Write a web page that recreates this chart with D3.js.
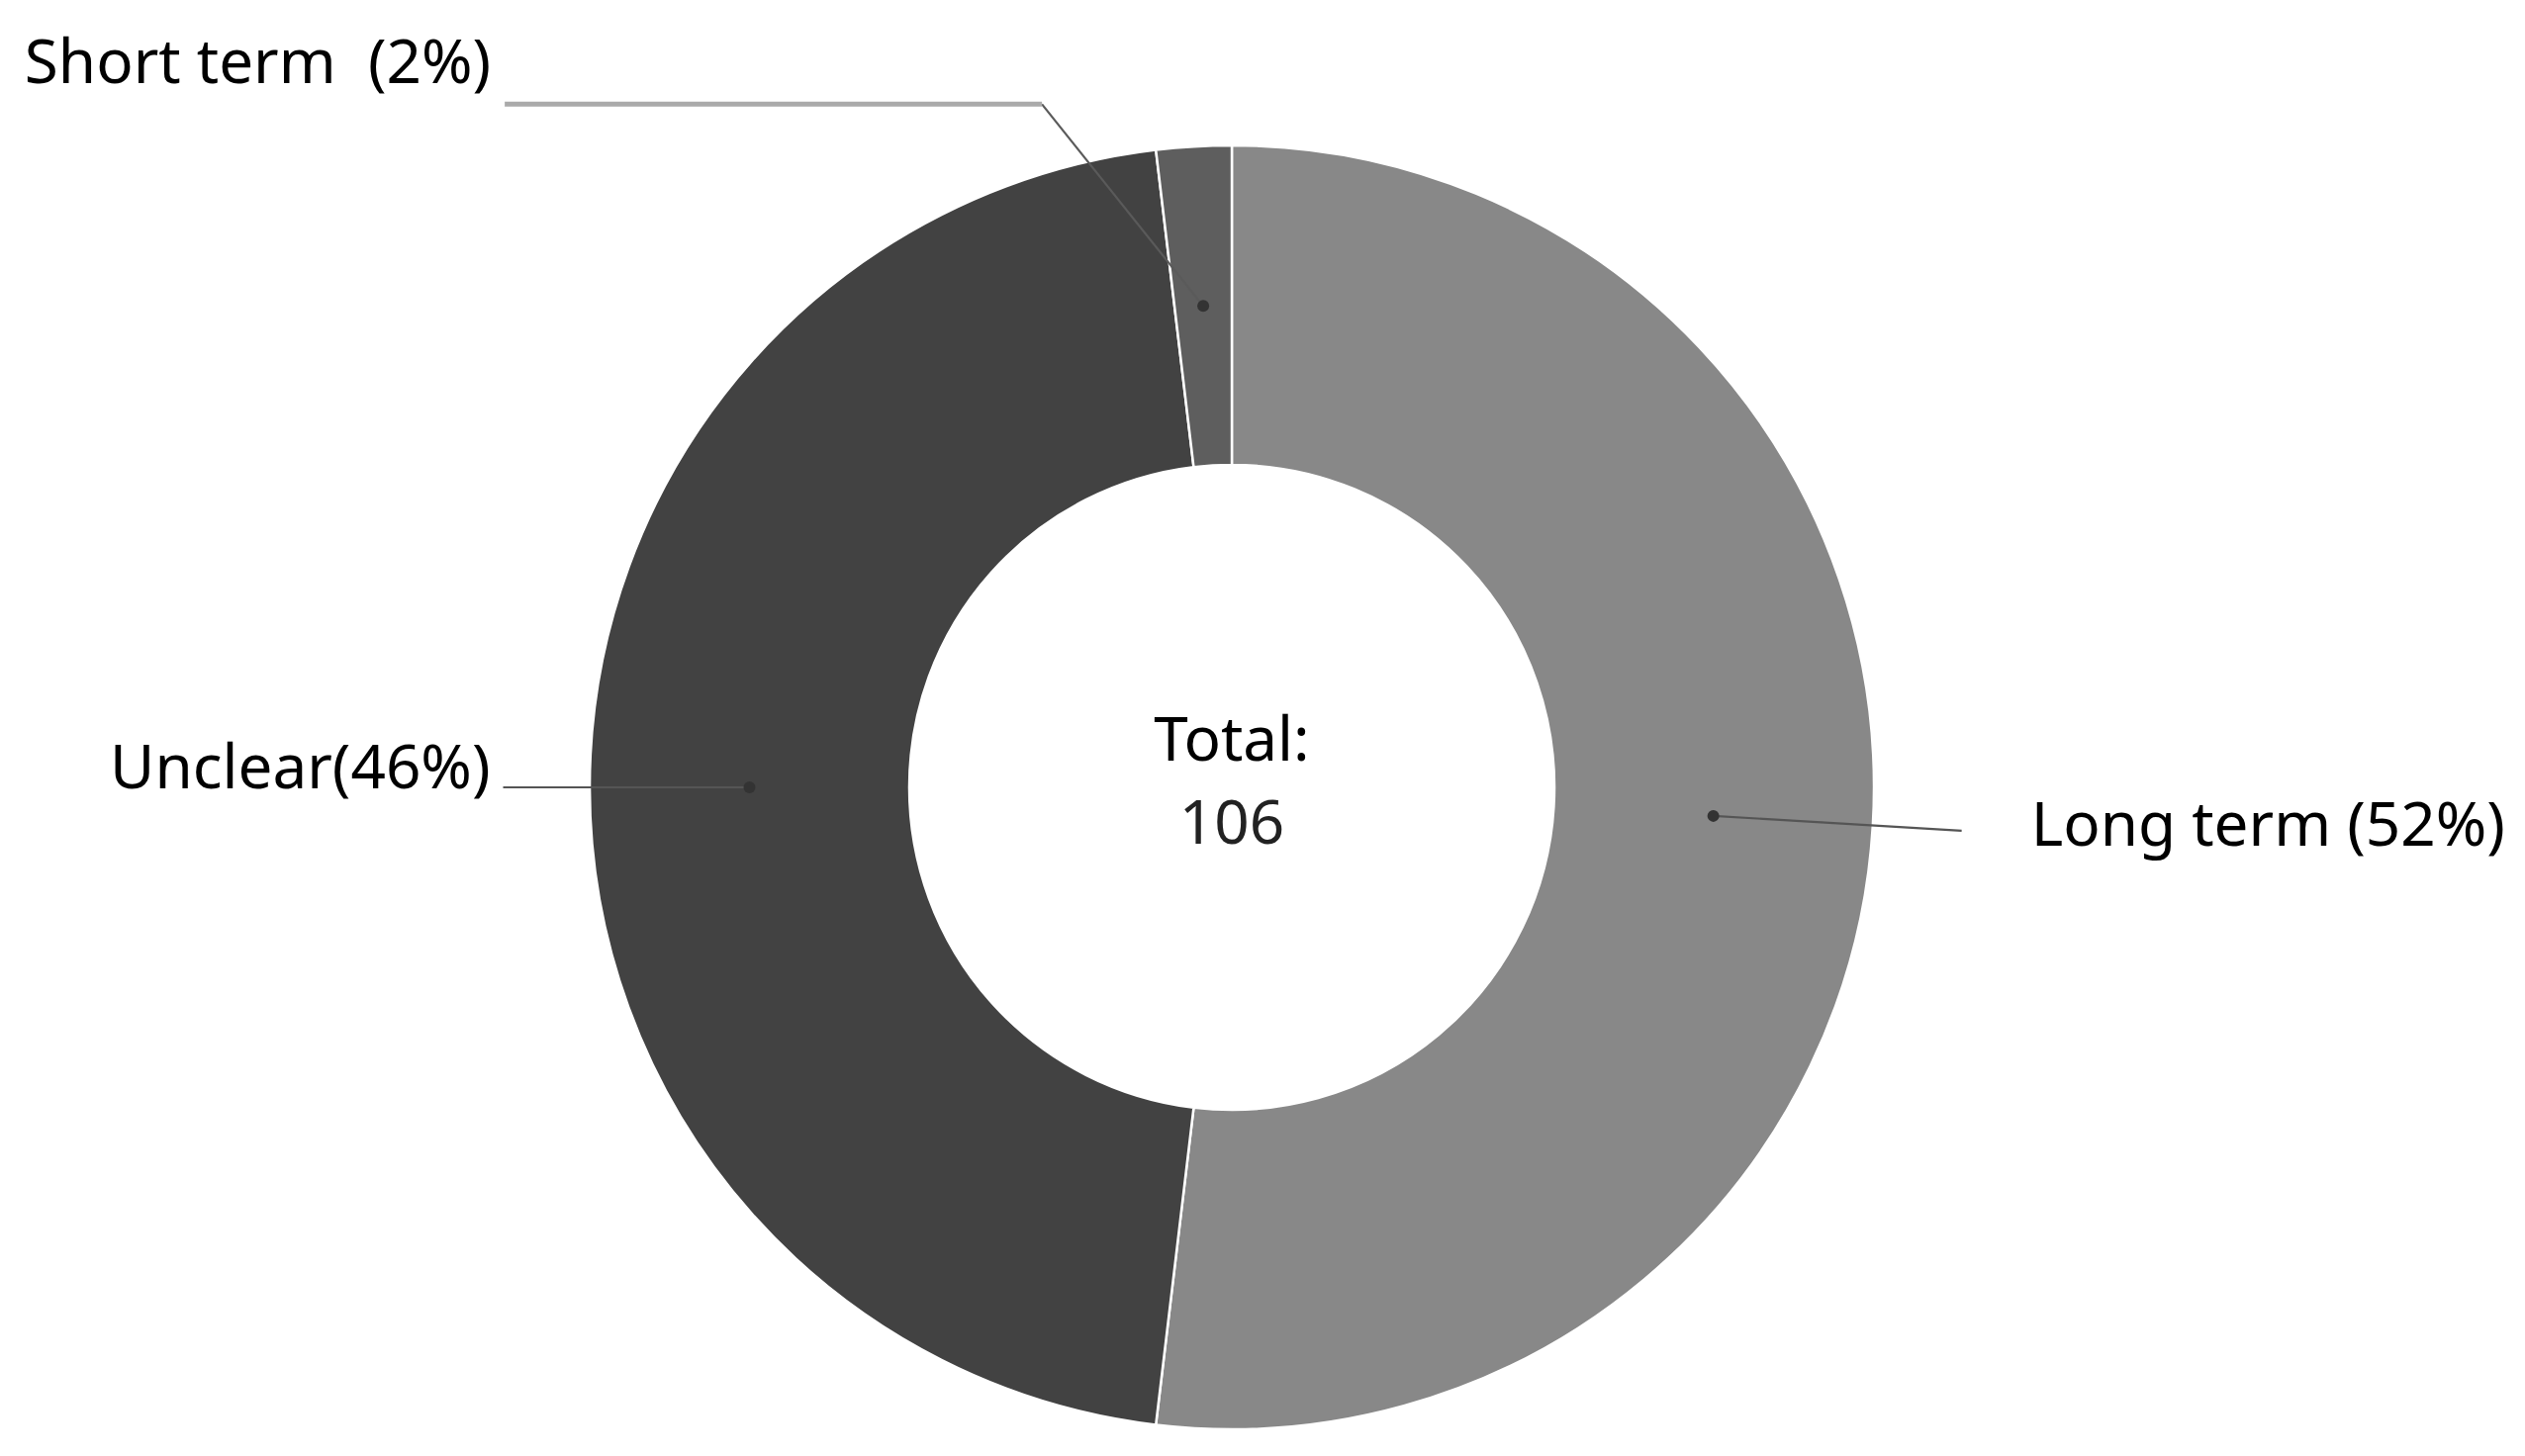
<!DOCTYPE html>
<html>
<head>
<meta charset="utf-8">
<script src="https://cdn.jsdelivr.net/npm/d3@7"></script>
<style>
  body { margin: 0; background: #fff; }
  svg text { font-family: "Noto Sans", "Open Sans", sans-serif; white-space: pre; }
</style>
</head>
<body>
<svg class="theSvg" width="2552" height="1472"></svg>
<script>
// data (counts add up to the total of 106)
var categories = ["Long term", "Unclear", "Short term"];
var counts = [55, 49, 2];
var labels = ["Long term (52%)", "Unclear(46%)", "Short term  (2%)"];
var colors = ["#888888", "#424242", "#5e5e5e"];
var totalLabel = ["Total:", "106"];

var svg = d3.select(".theSvg");
var cx = 1245, cy = 796;
var outerR = 649, innerR = 326;

var g = svg.append("g").attr("transform", "translate(" + cx + "," + cy + ")");

var data = categories.map(function(c, i){ return {name: c, value: counts[i], label: labels[i], color: colors[i]}; });

var pie = d3.pie().sort(null).value(function(d){ return d.value; });
var arc = d3.arc().innerRadius(innerR).outerRadius(outerR);

var arcs = pie(data);

g.selectAll(".slice")
  .data(arcs)
  .enter()
  .append("path")
  .attr("class", "slice")
  .attr("d", arc)
  .attr("fill", function(d){ return d.data.color; })
  .attr("stroke", "#fff")
  .attr("stroke-width", 2.5);

// label layout: leader line points are offsets from the slice centroid
var layout = {
  "Long term":  {pts: [[251, 15]], textDx: 321, textDy: 30, anchor: "start"},
  "Unclear":    {pts: [[-249, 0]], textDx: -262, textDy: 1, anchor: "end"},
  "Short term": {pts: [[-163, -204], [-706, -204]], textDx: -720, textDy: -225, anchor: "end"}
};

arcs.forEach(function(d){
  var c = arc.centroid(d);
  var lay = layout[d.data.name];

  if (lay.pts.length == 1){
    g.append("line")
      .attr("x1", c[0]).attr("y1", c[1])
      .attr("x2", c[0] + lay.pts[0][0]).attr("y2", c[1] + lay.pts[0][1])
      .attr("stroke", "#555").attr("stroke-width", 2.2);
  } else {
    g.append("line")
      .attr("x1", c[0]).attr("y1", c[1])
      .attr("x2", c[0] + lay.pts[0][0]).attr("y2", c[1] + lay.pts[0][1])
      .attr("stroke", "#5a5a5a").attr("stroke-width", 2.2);
    g.append("line")
      .attr("x1", c[0] + lay.pts[0][0]).attr("y1", c[1] + lay.pts[0][1])
      .attr("x2", c[0] + lay.pts[1][0]).attr("y2", c[1] + lay.pts[1][1])
      .attr("stroke", "#aaaaaa").attr("stroke-width", 5);
  }

  g.append("circle")
    .attr("cx", c[0]).attr("cy", c[1])
    .attr("r", 6)
    .attr("fill", "#333");

  g.append("text")
    .attr("x", c[0] + lay.textDx)
    .attr("y", c[1] + lay.textDy)
    .attr("text-anchor", lay.anchor)
    .attr("font-size", 62)
    .attr("fill", "#000")
    .text(d.data.label);
});

g.selectAll(".total")
  .data(totalLabel)
  .enter()
  .append("text")
  .attr("class", "total")
  .attr("text-anchor", "middle")
  .attr("x", 0)
  .attr("y", function(d, i){ return -27 + i * 84; })
  .attr("font-size", 62)
  .attr("fill", function(d, i){ return i == 0 ? "#000" : "#222"; })
  .text(function(d){ return d; });
</script>
</body>
</html>
